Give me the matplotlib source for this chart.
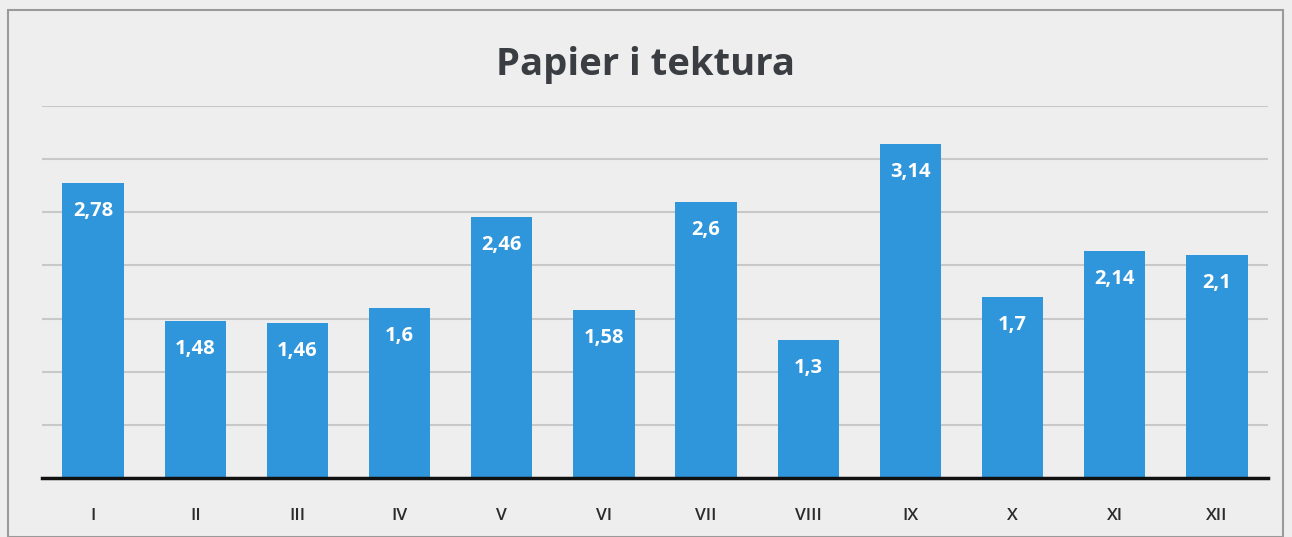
"""Bar chart: Papier i tektura (monthly values)."""

import matplotlib.pyplot as plt
from matplotlib.patches import Rectangle

months = ["I", "II", "III", "IV", "V", "VI", "VII", "VIII", "IX", "X", "XI", "XII"]
values = [2.78, 1.48, 1.46, 1.6, 2.46, 1.58, 2.6, 1.3, 3.14, 1.7, 2.14, 2.1]
value_labels = ["2,78", "1,48", "1,46", "1,6", "2,46", "1,58", "2,6", "1,3",
                "3,14", "1,7", "2,14", "2,1"]

BAR_COLOR = "#2f96dc"
BG_COLOR = "#eeeeee"
TEXT_COLOR = "#3a3e42"

plt.rcParams["font.family"] = ["Open Sans", "DejaVu Sans"]

fig = plt.figure(figsize=(12.92, 5.37), dpi=100, facecolor=BG_COLOR)
ax = fig.add_axes([42 / 1292, 1 - 478 / 537, 1226 / 1292, (478 - 106) / 537])
ax.set_facecolor("none")

x = range(len(months))
bars = ax.bar(x, values, width=0.6, color=BAR_COLOR, zorder=3)

for bar, lab in zip(bars, value_labels):
    ax.annotate(lab, (bar.get_x() + bar.get_width() / 2, bar.get_height()),
                xytext=(0, -13), textcoords="offset points",
                ha="center", va="top", color="white",
                fontsize=14.5, fontweight="bold", zorder=4)

ax.set_xlim(-0.5, len(months) - 0.5)
ax.set_ylim(0, 3.5)
ax.set_yticks([0.5, 1.0, 1.5, 2.0, 2.5, 3.0, 3.5])
ax.yaxis.grid(True, color="#c8c8c8", linewidth=1.5, zorder=0)
ax.tick_params(axis="y", left=False, labelleft=False)
ax.tick_params(axis="x", bottom=False, labelsize=12.5, labelcolor="#2b2b2b", pad=18)
ax.set_xticks(list(x))
ax.set_xticklabels(months, fontweight="semibold")

for side in ("top", "right", "left"):
    ax.spines[side].set_visible(False)
ax.spines["bottom"].set_color("#111111")
ax.spines["bottom"].set_linewidth(2.5)
ax.spines["bottom"].set_zorder(5)

fig.text(0.5, 1 - 65 / 537, "Papier i tektura", ha="center", va="center",
         fontsize=27.5, fontweight="bold", color=TEXT_COLOR)

# scanned-frame border
fig.patches.append(Rectangle((8 / 1292, 0), 1275 / 1292, 1 - 10 / 537,
                             transform=fig.transFigure, fill=False,
                             edgecolor="#9a9a9a", linewidth=1.5))

fig.savefig("out.png", dpi=100, facecolor=BG_COLOR)
